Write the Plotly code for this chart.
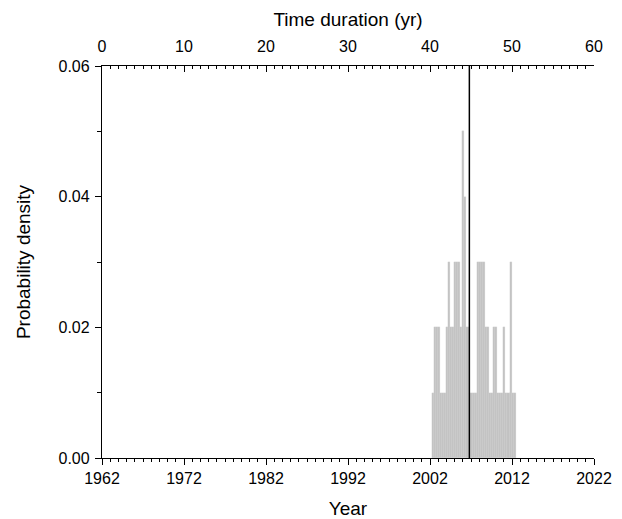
import plotly.graph_objects as go

# Histogram data (bin left edges in years, probability density)
bin_left = [2002.20, 2002.45, 2002.70, 2002.95, 2003.20, 2003.45, 2003.70, 2003.95,
            2004.20, 2004.45, 2004.70, 2004.95, 2005.20, 2005.45, 2005.70, 2005.95,
            2006.20, 2006.45, 2006.70, 2006.95, 2007.20, 2007.45, 2007.70, 2007.95,
            2008.20, 2008.45, 2008.70, 2008.95, 2009.20, 2009.45, 2009.70, 2009.95,
            2010.20, 2010.45, 2010.70, 2010.95, 2011.20, 2011.45, 2011.70, 2011.95,
            2012.20]
density = [0.01, 0.02, 0.02, 0.02, 0.01, 0.01, 0.01, 0.02,
           0.03, 0.02, 0.02, 0.03, 0.03, 0.03, 0.02, 0.05,
           0.04, 0.02, 0.01, 0.01, 0.01, 0.01, 0.03, 0.03,
           0.03, 0.03, 0.02, 0.02, 0.01, 0.01, 0.02, 0.02,
           0.01, 0.01, 0.01, 0.02, 0.01, 0.01, 0.03, 0.01,
           0.01]
bin_width = 0.25
marker_year = 2006.8

year_range = [1962, 2022]
duration_range = [0, 60]
y_range = [0, 0.06]

FONT = "Liberation Sans, Arial, sans-serif"

fig = go.Figure()
fig.add_trace(go.Bar(
    x=bin_left, y=density, width=bin_width, offset=0,
    marker=dict(color="#c2c2c2", line=dict(color="#d4d4d4", width=0.25)),
    showlegend=False, hoverinfo="x+y",
))
fig.add_trace(go.Scatter(
    x=[marker_year, marker_year], y=y_range, mode="lines",
    line=dict(color="black", width=1.5), showlegend=False,
))
# invisible trace to activate top axis
fig.add_trace(go.Scatter(
    x=duration_range, y=[None, None], xaxis="x2", yaxis="y",
    mode="lines", showlegend=False, hoverinfo="skip",
))

fig.update_layout(
    width=614, height=511,
    margin=dict(l=94, r=28, t=58, b=61),
    paper_bgcolor="white", plot_bgcolor="white",
    font=dict(family=FONT, size=16, color="black"),
    bargap=0,
    xaxis=dict(
        range=year_range, tick0=1962, dtick=10, automargin=False,
        ticks="outside", ticklen=6, tickwidth=1.3, tickcolor="black",
        minor=dict(dtick=1, ticks="outside", ticklen=3, tickwidth=1, tickcolor="black"),
        showline=True, linecolor="black", linewidth=1.3,
        showgrid=False, zeroline=False,
        title=dict(text="Year", font=dict(size=19), standoff=16),
        tickfont=dict(size=16),
    ),
    xaxis2=dict(
        range=duration_range, overlaying="x", side="top", anchor="y",
        tick0=0, dtick=10, automargin=False,
        ticks="inside", ticklen=6, tickwidth=1.3, tickcolor="black",
        minor=dict(dtick=1, ticks="inside", ticklen=3, tickwidth=1, tickcolor="black"),
        showline=True, linecolor="black", linewidth=1.3,
        showgrid=False, zeroline=False,
        ticklabelstandoff=6,
        title=dict(text="Time duration (yr)", font=dict(size=19), standoff=6),
        tickfont=dict(size=16),
    ),
    yaxis=dict(
        range=y_range, tick0=0, dtick=0.02, tickformat=".2f", automargin=False,
        ticks="outside", ticklen=6, tickwidth=1.3, tickcolor="black",
        minor=dict(dtick=0.01, ticks="outside", ticklen=4, tickwidth=1, tickcolor="black"),
        showline=True, linecolor="black", linewidth=1.3,
        showgrid=False, zeroline=False,
        ticklabelstandoff=2,
        title=dict(text="Probability density", font=dict(size=19), standoff=22),
        tickfont=dict(size=16),
    ),
)

fig.write_html("out.html")
